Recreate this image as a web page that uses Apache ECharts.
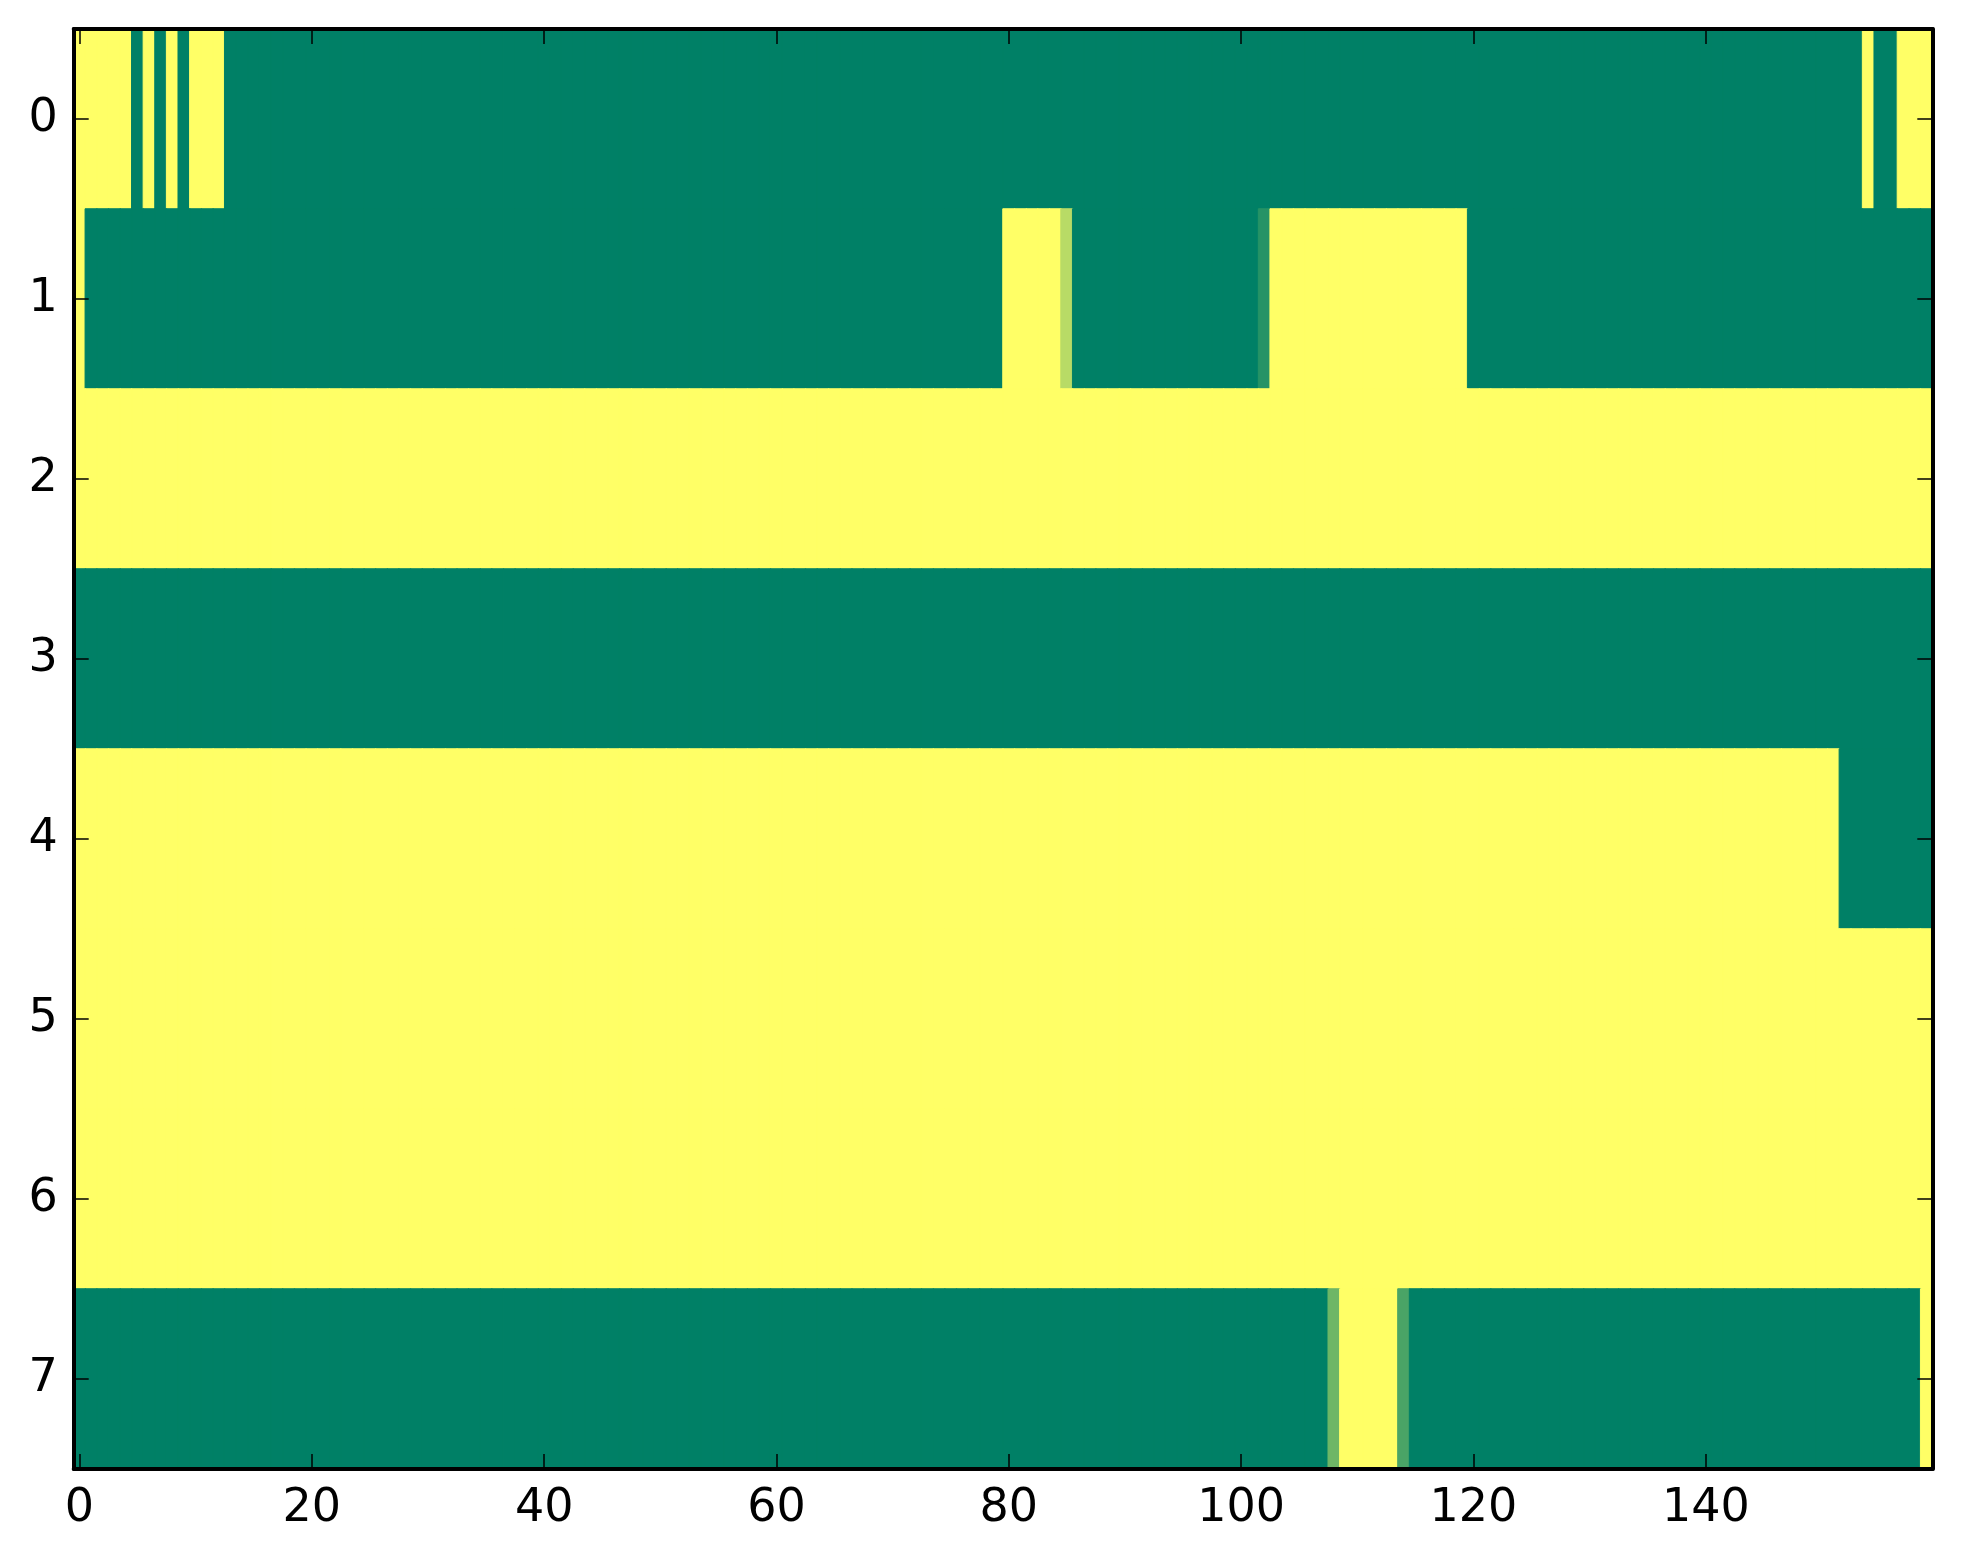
<!DOCTYPE html>
<html>
<head>
<meta charset="utf-8">
<script src="https://cdn.jsdelivr.net/npm/echarts@6/dist/echarts.min.js"></script>
<style>
html,body{margin:0;padding:0;background:#fff;}
#chart{width:1963px;height:1564px;}
</style>
</head>
<body>
<div id="chart"></div>
<script>
// Column indices (160) and row indices (8)
const xCategories = Array.from({length: 160}, (_, i) => String(i));
const yCategories = ['0', '1', '2', '3', '4', '5', '6', '7'];
const xTickLabels = ['0', '20', '40', '60', '80', '100', '120', '140'];

const row0 = [[1,5],[0,1],[1,1],[0,1],[1,1],[0,1],[1,3],[0,141],[1,1],[0,2],[1,3]];
const row1 = [[1,1],[0,79],[1,5],[0.72,1],[0,16],[0.15,1],[1,17],[0,40]];
const row2 = [[1,160]];
const row3 = [[0,160]];
const row4 = [[1,152],[0,8]];
const row5 = [[1,160]];
const row6 = [[1,160]];
const row7 = [[0,108],[0.43,1],[1,5],[0.29,1],[0,44],[1,1]];
const rows = [row0, row1, row2, row3, row4, row5, row6, row7];

// "summer" colormap: green (0) -> yellow (1)
function summer(v) {
  const r = Math.round(255 * v);
  const g = Math.round(255 * (0.5 + v / 2));
  const b = Math.round(255 * 0.4);
  return 'rgb(' + r + ',' + g + ',' + b + ')';
}

const data = [];
rows.forEach((runs, r) => {
  let c = 0;
  runs.forEach(([v, n]) => {
    for (let k = 0; k < n; k++) {
      const col = summer(v);
      data.push({value: [c, r, v], itemStyle: {color: col, borderColor: col, borderWidth: 1}});
      c++;
    }
  });
});

const chart = echarts.init(document.getElementById('chart'), null, {renderer: 'canvas'});
const FONT = 'DejaVu Sans';
const labelInterval = (idx) => idx % 20 === 0;
const axisLine = {show: true, lineStyle: {color: '#000', width: 4}};
const tick = {show: true, inside: true, length: 15, lineStyle: {color: '#000', width: 1.5}};

chart.setOption({
  backgroundColor: '#fff',
  animation: false,
  grid: {left: 73.7, top: 29, width: 1858.6, height: 1440},
  xAxis: [
    {type: 'category', data: xCategories, position: 'bottom', z: 10,
     axisLine: axisLine,
     axisTick: Object.assign({}, tick, {interval: (i) => labelInterval(i), alignWithLabel: true}),
     axisLabel: {interval: (i) => labelInterval(i), fontFamily: FONT, fontSize: 46, color: '#000', margin: 17},
     splitLine: {show: false}},
    {type: 'category', data: xCategories, position: 'top', z: 10,
     axisLine: axisLine,
     axisTick: Object.assign({}, tick, {interval: (i) => labelInterval(i), alignWithLabel: true}),
     axisLabel: {show: false}, splitLine: {show: false}}
  ],
  yAxis: [
    {type: 'category', data: yCategories, inverse: true, position: 'left', z: 10,
     axisLine: axisLine,
     axisTick: Object.assign({}, tick, {alignWithLabel: true, interval: 0}),
     axisLabel: {fontFamily: FONT, fontSize: 46, color: '#000', margin: 16},
     splitLine: {show: false}},
    {type: 'category', data: yCategories, inverse: true, position: 'right', z: 10,
     axisLine: axisLine,
     axisTick: Object.assign({}, tick, {alignWithLabel: true, interval: 0}),
     axisLabel: {show: false}, splitLine: {show: false}}
  ],
  series: [{
    type: 'heatmap',
    xAxisIndex: 0, yAxisIndex: 0,
    data: data,
    emphasis: {disabled: true},
    progressive: 0
  }]
});
</script>
</body>
</html>
